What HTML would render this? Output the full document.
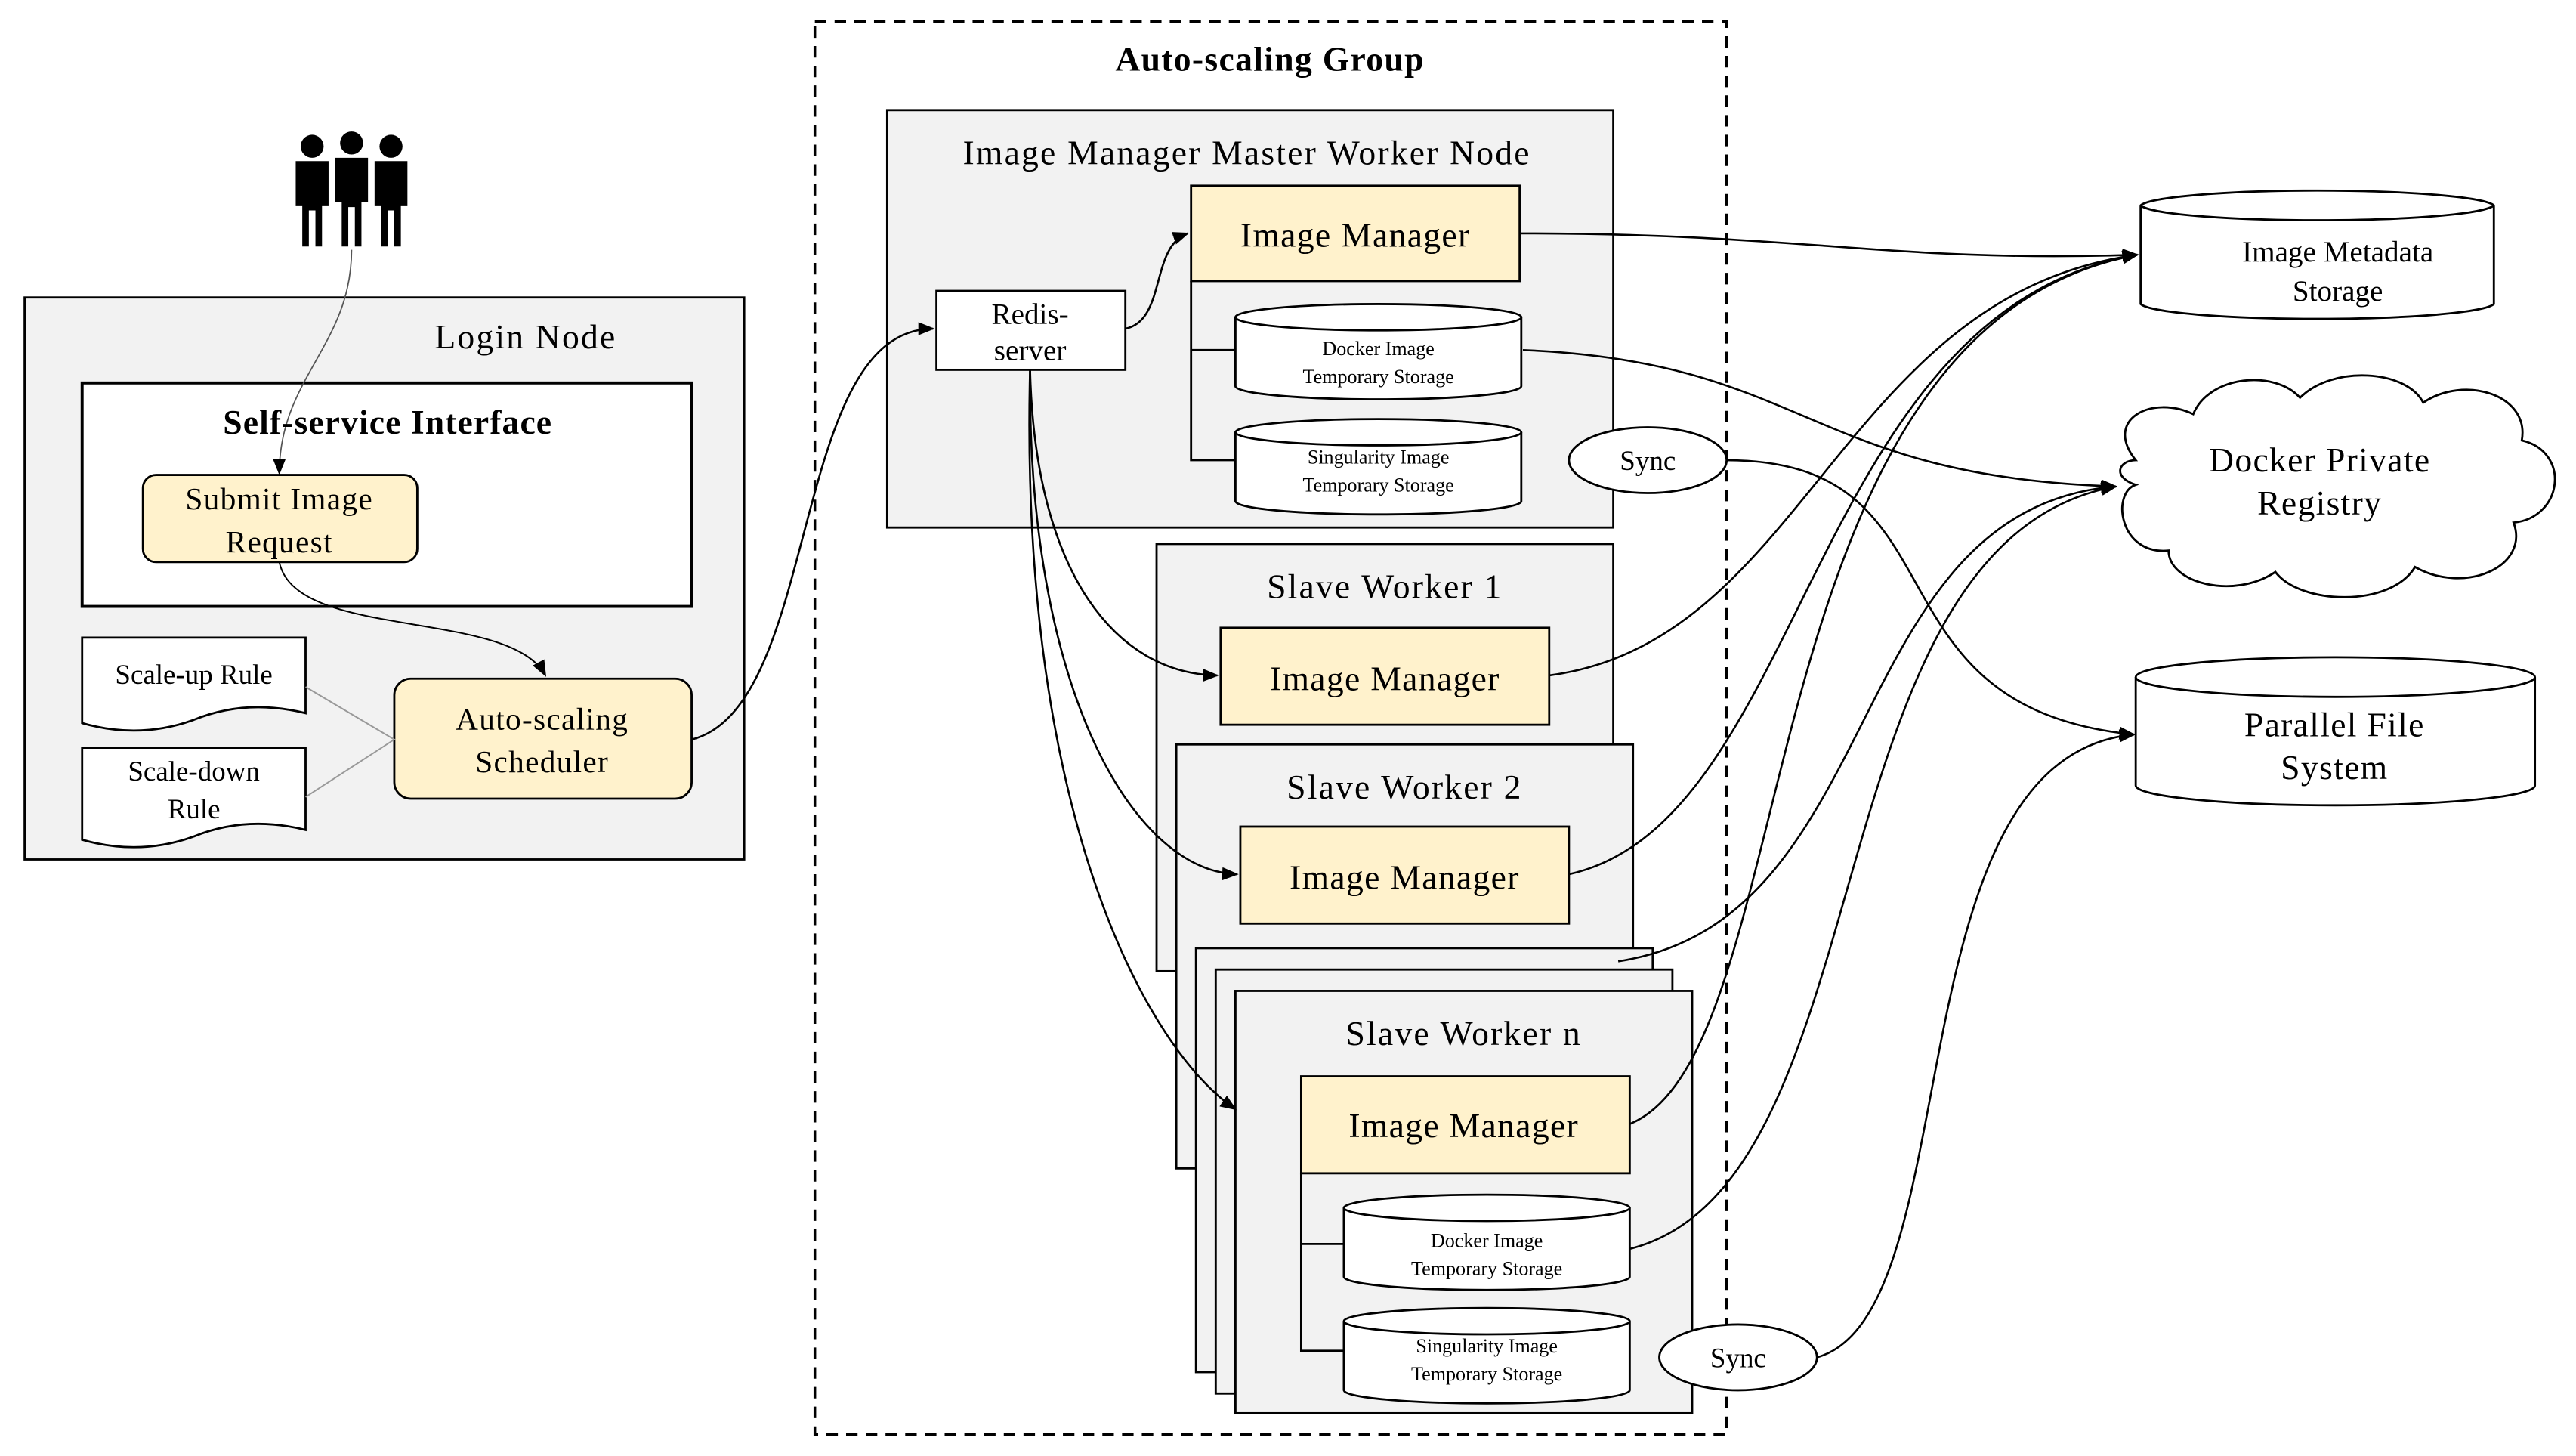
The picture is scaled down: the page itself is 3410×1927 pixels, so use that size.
<!DOCTYPE html>
<html><head><meta charset="utf-8"><style>html,body{margin:0;padding:0;background:#fff}svg{display:block}</style></head><body>
<svg width="3410" height="1927" viewBox="0 0 1568 886" xmlns="http://www.w3.org/2000/svg" font-family="Liberation Serif, serif">
<defs>
<marker id="a" markerWidth="10" markerHeight="8" refX="9" refY="4" orient="auto" markerUnits="userSpaceOnUse"><path d="M0,0 L10,4 L0,8 z" fill="#000"/></marker>
<g id="cyl"><path d="M0,8 A87,8 0 0 1 174,8 L174,50 A87,8 0 0 1 0,50 Z" fill="#fff" stroke="#000" stroke-width="1.3"/><path d="M0,8 A87,8 0 0 0 174,8" fill="none" stroke="#000" stroke-width="1.3"/></g>
</defs>
<g stroke="#000" stroke-width="1.3">
<rect x="15" y="181" width="438" height="342" fill="#f2f2f2"/>
<rect x="50" y="233" width="371" height="136" fill="#fff" stroke-width="1.8"/>
<rect x="87" y="289" width="167" height="53" rx="8" fill="#fff2cc"/>
<path d="M50,388 H186 V434 Q150,425 118,438 Q85,450 50,440 Z" fill="#fff"/>
<path d="M50,455 H186 V505 Q150,496 118,509 Q85,521 50,511 Z" fill="#fff"/>
<rect x="240" y="413" width="181" height="73" rx="10" fill="#fff2cc"/>
<rect x="496" y="13" width="555" height="860" fill="none" stroke-dasharray="7,5" stroke-width="1.6"/>
<rect x="540" y="67" width="442" height="254" fill="#f2f2f2"/>
<rect x="725" y="113" width="200" height="58" fill="#fff2cc"/>
<rect x="570" y="177" width="115" height="48" fill="#fff"/>
<path d="M725,171 V280 H752 M725,213 H752" fill="none"/>
<rect x="704" y="331" width="278" height="260" fill="#f2f2f2"/>
<rect x="743" y="382" width="200" height="59" fill="#fff2cc"/>
<rect x="716" y="453" width="278" height="258" fill="#f2f2f2"/>
<rect x="755" y="503" width="200" height="59" fill="#fff2cc"/>
<rect x="728" y="577" width="278" height="258" fill="#f2f2f2"/>
<rect x="740" y="590" width="278" height="258" fill="#f2f2f2"/>
<rect x="752" y="603" width="278" height="257" fill="#f2f2f2"/>
<rect x="792" y="655" width="200" height="59" fill="#fff2cc"/>
<path d="M792,714 V822 H818 M792,757 H818" fill="none"/>
<path d="M1303,125 A108,10 0 0 1 1518,125 L1518,185 A108,10 0 0 1 1303,185 Z" fill="#fff"/>
<path d="M1303,125 A108,10 0 0 0 1518,125" fill="none"/>
<path d="M1300,412 A121,12 0 0 1 1543,412 L1543,478 A121,12 0 0 1 1300,478 Z" fill="#fff"/>
<path d="M1300,412 A121,12 0 0 0 1543,412" fill="none"/>
<path d="M1300,280 C1280,255 1310,240 1335,252 C1345,228 1385,225 1400,242 C1420,222 1465,225 1475,245 C1500,228 1540,240 1535,268 C1565,275 1560,315 1530,318 C1540,345 1500,362 1470,345 C1455,370 1400,368 1385,348 C1360,365 1320,355 1320,335 C1290,338 1285,300 1300,295 C1285,290 1290,280 1300,280 Z" fill="#fff"/>
<ellipse cx="1003" cy="280" rx="48" ry="20" fill="#fff"/>
<ellipse cx="1058" cy="826" rx="48" ry="20" fill="#fff"/>
</g>
<use href="#cyl" x="752" y="185"/>
<use href="#cyl" x="752" y="255"/>
<use href="#cyl" x="818" y="727"/>
<use href="#cyl" x="818" y="796"/>
<g fill="#000">
<circle cx="190" cy="89" r="7"/><path d="M180,98 H200 V125 H196 V150 H192 V128 H188 V150 H184 V125 H180 Z"/>
<circle cx="214" cy="87" r="7"/><path d="M204,96 H224 V123 H220 V150 H216 V126 H212 V150 H208 V123 H204 Z"/>
<circle cx="238" cy="89" r="7"/><path d="M228,98 H248 V125 H244 V150 H240 V128 H236 V150 H232 V125 H228 Z"/>
</g>
<g fill="none" stroke="#000" stroke-width="1.2" marker-end="url(#a)">
<path d="M214,152 C214,210 170,230 170,288" stroke="#555" stroke-width="0.8"/>
<path d="M170,342 C180,390 310,370 332,411" stroke-width="0.9"/>
<path d="M421,450 C500,430 480,200 568,200"/>
<path d="M685,200 C710,195 700,150 723,142"/>
<path d="M627,225 C630,350 680,410 741,411"/>
<path d="M627,225 C625,420 690,530 753,532"/>
<path d="M627,225 C620,500 700,640 752,675"/>
<path d="M925,142 C1100,142 1150,160 1301,155"/>
<path d="M943,411 C1100,390 1120,180 1301,155"/>
<path d="M955,532 C1100,500 1100,190 1301,155"/>
<path d="M992,684 C1100,640 1060,200 1301,155"/>
<path d="M927,213 C1100,220 1100,290 1288,296"/>
<path d="M985,585 C1150,560 1120,310 1288,296"/>
<path d="M992,760 C1150,720 1100,330 1288,296"/>
<path d="M1051,280 C1200,280 1130,430 1299,447"/>
<path d="M1106,826 C1200,800 1150,460 1299,447"/>
</g>
<path d="M186,418 L240,450 L186,485" fill="none" stroke="#999" stroke-width="0.9"/>
<g font-size="21" text-anchor="middle" fill="#000" letter-spacing="0.6">
<text x="320" y="212" letter-spacing="1">Login Node</text>
<text x="236" y="264" font-weight="bold" letter-spacing="0.5">Self-service Interface</text>
<text x="170" y="310" font-size="19">Submit Image</text><text x="170" y="336" font-size="19">Request</text>
<text x="118" y="416" font-size="17" letter-spacing="0">Scale-up Rule</text>
<text x="118" y="475" font-size="17" letter-spacing="0">Scale-down</text><text x="118" y="498" font-size="17" letter-spacing="0">Rule</text>
<text x="330" y="444" font-size="19">Auto-scaling</text><text x="330" y="470" font-size="19">Scheduler</text>
<text x="773" y="43" font-weight="bold">Auto-scaling Group</text>
<text x="759" y="100" letter-spacing="1">Image Manager  Master Worker Node</text>
<text x="825" y="150">Image Manager</text>
<text x="627" y="197" font-size="18" letter-spacing="0">Redis-</text><text x="627" y="219" font-size="18" letter-spacing="0">server</text>
<text x="839" y="216" font-size="12" letter-spacing="0">Docker Image</text><text x="839" y="233" font-size="12" letter-spacing="0">Temporary Storage</text>
<text x="839" y="282" font-size="12" letter-spacing="0">Singularity Image</text><text x="839" y="299" font-size="12" letter-spacing="0">Temporary Storage</text>
<text x="1003" y="286" font-size="17" letter-spacing="0">Sync</text>
<text x="843" y="364" letter-spacing="1">Slave Worker  1</text>
<text x="843" y="420">Image Manager</text>
<text x="855" y="486" letter-spacing="1">Slave Worker  2</text>
<text x="855" y="541">Image Manager</text>
<text x="891" y="636" letter-spacing="1">Slave Worker  n</text>
<text x="891" y="692">Image Manager</text>
<text x="905" y="759" font-size="12" letter-spacing="0">Docker Image</text><text x="905" y="776" font-size="12" letter-spacing="0">Temporary Storage</text>
<text x="905" y="823" font-size="12" letter-spacing="0">Singularity Image</text><text x="905" y="840" font-size="12" letter-spacing="0">Temporary Storage</text>
<text x="1058" y="832" font-size="17" letter-spacing="0">Sync</text>
<text x="1423" y="159" font-size="18" letter-spacing="0">Image Metadata</text><text x="1423" y="183" font-size="18" letter-spacing="0">Storage</text>
<text x="1412" y="287">Docker Private</text><text x="1412" y="313">Registry</text>
<text x="1421" y="448">Parallel File</text><text x="1421" y="474">System</text>
</g>
</svg>
</body></html>
